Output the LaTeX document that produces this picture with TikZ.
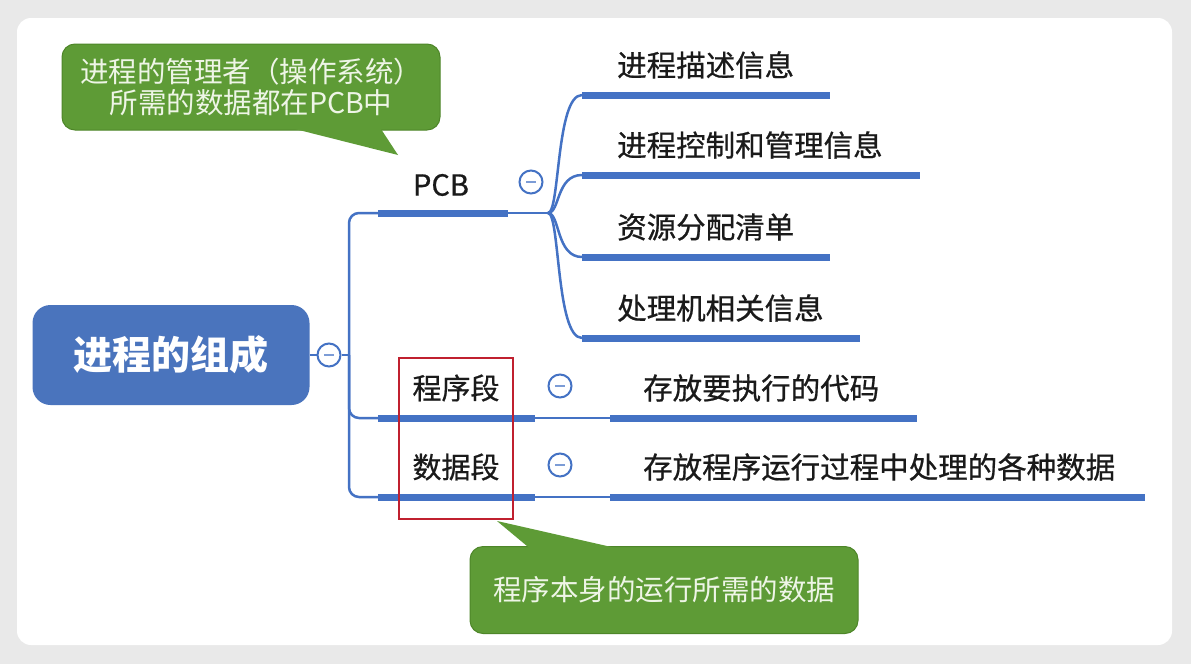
\documentclass[tikz,border=0pt]{standalone}
\usepackage{fontspec}
\setmainfont{Noto Sans CJK SC}
\newfontfamily\inkfont{Noto Sans CJK SC}[FakeBold=0.7]
\usetikzlibrary{positioning, calc}
\definecolor{Branch}{HTML}{4472C4}
\definecolor{RootBlue}{HTML}{4A74BD}
\definecolor{Note}{HTML}{5E9B36}
\definecolor{NoteEdge}{HTML}{4E8629}
\definecolor{NoteText}{HTML}{EEF5E6}
\definecolor{Mark}{HTML}{C0202F}
\definecolor{Frame}{HTML}{E9E9E9}
\definecolor{Ink}{HTML}{1A1A1A}
\tikzset{
    rootnode/.style={rectangle, rounded corners=18pt, fill=RootBlue, text=white, font=\fontsize{39}{42}\selectfont\bfseries, minimum width=277pt, minimum height=100pt},
    topicnode/.style={text=Ink, font=\inkfont\fontsize{29}{31}\selectfont, inner sep=0pt},
    leafnode/.style={anchor=west, text=Ink, font=\inkfont\fontsize{29.5}{31}\selectfont, inner sep=0pt},
    fold/.style={circle, draw=Branch, line width=2pt, fill=white, minimum size=23pt, inner sep=0pt,
        path picture={\draw[line width=2.2pt, Branch!70] (path picture bounding box.center) ++(-5pt,0) -- ++(10pt,0);}},
    stem/.style={draw=Branch, line width=2.5pt},
    underline/.style={draw=Branch, line width=7pt},
    notebox/.style={rectangle, rounded corners=13pt, fill=Note, draw=NoteEdge, line width=1pt, text=NoteText, align=center, font=\fontsize{28.5}{31}\selectfont},
}

\begin{document}
\begin{tikzpicture}[x=1pt, y=-1pt]
    % card
    \fill[Frame] (0,0) rectangle (1191,664);
    \fill[white, rounded corners=14pt] (17,18) rectangle (1172,645);

    % root and its trunk
    \node[rootnode] (root) at (171,355) {进程的组成};
    \node[fold] (fold0) at (329,355) {};
    \coordinate (hub) at (349,355);
    \coordinate (pcbL) at (378,213);
    \coordinate (progL) at (378,418);
    \coordinate (dataL) at (378,497);
    \draw[stem] (root.east) -- (fold0.west);
    \draw[stem] (fold0.east) -- (hub);
    \draw[stem, rounded corners=10pt] (pcbL) -| (hub) |- (progL);
    \draw[stem, rounded corners=10pt] (hub) |- (dataL);

    % PCB branch
    \coordinate (pcbR) at (508,213);
    \coordinate (fan) at (548,213);
    \node[topicnode] (pcb) at (441,185) {PCB};
    \node[fold] (fold1) at (531,182) {};
    \draw[underline] (pcbL) -- (pcbR);
    \draw[stem] (pcbR) -- (fan);
    \foreach \i/\y/\len/\txt in {1/95/830/进程描述信息, 2/175/920/进程控制和管理信息, 3/257/830/资源分配清单, 4/338/860/处理机相关信息}{
        \coordinate (leafL\i) at (582,\y);
        \coordinate (leafR\i) at (\len,\y);
        \draw[stem] (fan) .. controls (560,213) and (556,\y) .. (leafL\i);
        \draw[underline] (leafL\i) -- (leafR\i);
        \node[leafnode] (leaf\i) at (617,\y-30) {\txt};
    }

    % program and data segments
    \foreach \n/\y/\len/\head/\txt in {prog/418/917/程序段/存放要执行的代码, data/497/1145/数据段/存放程序运行过程中处理的各种数据}{
        \coordinate (\n M) at (535,\y);
        \coordinate (\n S) at (610,\y);
        \coordinate (\n E) at (\len,\y);
        \draw[underline] (\n L) -- (\n M);
        \draw[stem] (\n M) -- (\n S);
        \draw[underline] (\n S) -- (\n E);
        \node[topicnode] (\n) at (456,\y-30) {\head};
        \node[fold] at (560,\y-32) {};
        \node[leafnode] (\n leaf) at (643,\y-30) {\txt};
    }
    \draw[Mark, line width=2pt] (399,358) rectangle (513,519);

    % notes
    \node[notebox, minimum width=378pt, minimum height=86pt] (note1) at (251,87) {进程的管理者（操作系统）\\所需的数据都在PCB中};
    \fill[Note] (283,126) -- (398,155) -- (379,126) -- cycle;
    \node[notebox, minimum width=388pt, minimum height=87pt] (note2) at (664,590) {程序本身的运行所需的数据};
    \fill[Note] (533,551) -- (497,521) -- (629,551) -- cycle;
\end{tikzpicture}
\end{document}
